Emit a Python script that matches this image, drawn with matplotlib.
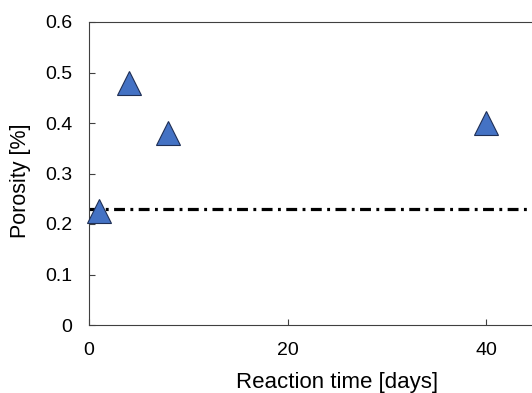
import matplotlib
matplotlib.use("Agg")
import matplotlib.pyplot as plt

plt.rcParams['font.family'] = ['Liberation Sans', 'DejaVu Sans']

# measured porosity vs reaction time
days = [1, 4, 8, 40]
porosity = [0.225, 0.48, 0.38, 0.40]
initial_porosity = 0.23

x_ticks = [0, 20, 40]
y_ticks = [0, 0.1, 0.2, 0.3, 0.4, 0.5, 0.6]
y_tick_labels = ['0', '0.1', '0.2', '0.3', '0.4', '0.5', '0.6']

fig = plt.figure(figsize=(5.32, 3.93), dpi=100)
# axes runs past the right edge (chart is cropped in the reference)
ax = fig.add_axes([89 / 532, 68 / 393, 596 / 532, 303 / 393])

ax.axhline(initial_porosity, color='black', lw=2.3,
           linestyle=(0, (3.4, 1.7, 0.9, 1.7)), dash_capstyle='butt', zorder=1)
ax.plot(days, porosity, linestyle='none', marker='^', markersize=17,
        markerfacecolor='#4472C4', markeredgecolor='#1f2f55', markeredgewidth=0.8,
        zorder=3, clip_on=False)

ax.set_xlim(0, 60)
ax.set_ylim(0, 0.6)
ax.set_xticks(x_ticks)
ax.set_yticks(y_ticks)
ax.set_yticklabels(y_tick_labels)

for s in ax.spines.values():
    s.set_color('#404040')
    s.set_linewidth(0.8)

ax.tick_params(direction='in', length=4, width=0.8, color='#404040',
               labelsize=14, labelcolor='black')
ax.tick_params(axis='x', pad=12)
ax.tick_params(axis='y', pad=12)

ax.set_xlabel('Reaction time [days]', fontsize=16)
ax.set_ylabel('Porosity [%]', fontsize=15.5)
ax.xaxis.set_label_coords(0.416, -0.155)
ax.yaxis.set_label_coords(-0.097, 0.475)

fig.savefig('out.png', dpi=100)
